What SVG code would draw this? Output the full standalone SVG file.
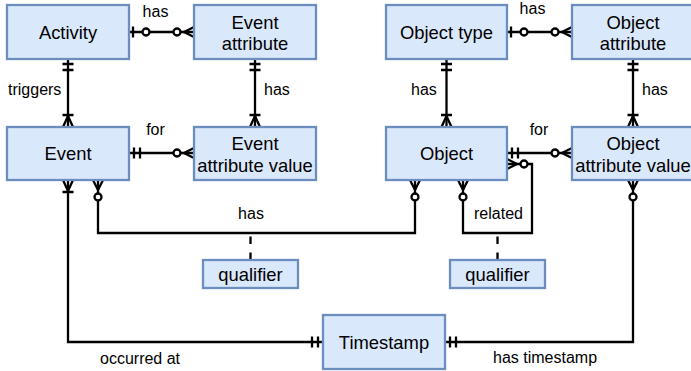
<svg xmlns="http://www.w3.org/2000/svg" width="691" height="371" viewBox="0 0 691 371">
  <style>
    .box { fill: #dae8fc; stroke: #6c8ebf; stroke-width: 2.3; }
    .nt { font-family: "Liberation Sans", Arial, sans-serif; font-size: 18.4px; fill: #000; text-anchor: middle; }
    .lb { font-family: "Liberation Sans", Arial, sans-serif; font-size: 16px; fill: #000; }
    .edge { fill: none; stroke: #000; stroke-width: 2.3; }
    .dash { fill: none; stroke: #000; stroke-width: 2.3; stroke-dasharray: 7.5 8.5; }
    .mk { fill: none; stroke: #000; stroke-width: 2.3; }
    .mc { fill: #fff; stroke: #000; stroke-width: 2.3; }
  </style>
  <defs>
    <!-- crow's foot with circle: zero or many -->
    <marker id="zeroMany" markerUnits="userSpaceOnUse" orient="auto-start-reverse" viewBox="-25 -10 30 20" markerWidth="30" markerHeight="20" refX="0" refY="0">
      <path class="mk" d="M0,-5 L-10,0 L0,5"/>
      <circle class="mc" cx="-17" cy="0" r="3.5"/>
    </marker>
    <!-- crow's foot with bar: one or many -->
    <marker id="oneMany" markerUnits="userSpaceOnUse" orient="auto-start-reverse" viewBox="-25 -10 30 20" markerWidth="30" markerHeight="20" refX="0" refY="0">
      <path class="mk" d="M0,-5 L-11,0 L0,5 M-12,-5.5 V5.5"/>
    </marker>
    <!-- double bar: exactly one -->
    <marker id="mandOne" markerUnits="userSpaceOnUse" orient="auto-start-reverse" viewBox="-25 -10 30 20" markerWidth="30" markerHeight="20" refX="0" refY="0">
      <path class="mk" d="M-5,-5.5 V5.5 M-11,-5.5 V5.5"/>
    </marker>
    <!-- bar with circle: zero or one -->
    <marker id="zeroOne" markerUnits="userSpaceOnUse" orient="auto-start-reverse" viewBox="-25 -10 30 20" markerWidth="30" markerHeight="20" refX="0" refY="0">
      <path class="mk" d="M-4,-5.5 V5.5"/>
      <circle class="mc" cx="-17" cy="0" r="3.5"/>
    </marker>
  </defs>

  <g id="connectors">
    <path class="edge" d="M129,32 H194" marker-start="url(#zeroOne)" marker-end="url(#zeroMany)"/>
    <path class="edge" d="M68,59 V127" marker-start="url(#mandOne)" marker-end="url(#oneMany)"/>
    <path class="edge" d="M255,59 V127" marker-start="url(#mandOne)" marker-end="url(#oneMany)"/>
    <path class="edge" d="M129,153 H194" marker-start="url(#mandOne)" marker-end="url(#zeroMany)"/>
    <path class="edge" d="M507,32 H572" marker-start="url(#zeroOne)" marker-end="url(#zeroMany)"/>
    <path class="edge" d="M446.5,59 V127" marker-start="url(#mandOne)" marker-end="url(#oneMany)"/>
    <path class="edge" d="M633,59 V127" marker-start="url(#mandOne)" marker-end="url(#oneMany)"/>
    <path class="edge" d="M507,153 H572" marker-start="url(#mandOne)" marker-end="url(#zeroMany)"/>
    <path class="edge" d="M507,164 H532 V233 H463 V180" marker-start="url(#zeroMany)" marker-end="url(#zeroMany)"/>
    <path class="edge" d="M98,180 V233 H415 V180" marker-start="url(#zeroMany)" marker-end="url(#zeroMany)"/>
    <path class="edge" d="M68,180 V342 H323" marker-start="url(#oneMany)" marker-end="url(#mandOne)"/>
    <path class="edge" d="M633,180 V342 H445" marker-start="url(#zeroMany)" marker-end="url(#mandOne)"/>
    <path class="dash" d="M250.5,236.5 V260"/>
    <path class="dash" d="M497.5,236.5 V260"/>

    <text class="lb" x="155.5" y="17" text-anchor="middle">has</text>
    <text class="lb" x="8" y="94.5">triggers</text>
    <text class="lb" x="264" y="94.5">has</text>
    <text class="lb" x="155.5" y="135" text-anchor="middle">for</text>
    <text class="lb" x="532.5" y="14" text-anchor="middle">has</text>
    <text class="lb" x="411" y="94.5">has</text>
    <text class="lb" x="642" y="94.5">has</text>
    <text class="lb" x="539" y="135" text-anchor="middle">for</text>
    <text class="lb" x="251" y="219" text-anchor="middle">has</text>
    <text class="lb" x="498.5" y="219" text-anchor="middle">related</text>
    <text class="lb" x="100" y="364">occurred at</text>
    <text class="lb" x="493" y="363">has timestamp</text>
  </g>

  <g id="activity">
    <rect class="box" x="7" y="5" width="122" height="54"/>
    <text class="nt" x="68" y="38.5">Activity</text>
  </g>
  <g id="event-attribute">
    <rect class="box" x="194" y="5" width="122" height="54"/>
    <text class="nt" x="255" y="28.5">Event</text>
    <text class="nt" x="255" y="50">attribute</text>
  </g>
  <g id="event">
    <rect class="box" x="7" y="127" width="122" height="53"/>
    <text class="nt" x="68" y="160">Event</text>
  </g>
  <g id="event-attribute-value">
    <rect class="box" x="194" y="127" width="122" height="53"/>
    <text class="nt" x="255" y="149.5">Event</text>
    <text class="nt" x="255" y="171.5">attribute value</text>
  </g>
  <g id="object-type">
    <rect class="box" x="386" y="5" width="121" height="54"/>
    <text class="nt" x="446.5" y="38.5">Object type</text>
  </g>
  <g id="object-attribute">
    <rect class="box" x="572" y="5" width="122" height="54"/>
    <text class="nt" x="633" y="28.5">Object</text>
    <text class="nt" x="633" y="50">attribute</text>
  </g>
  <g id="object">
    <rect class="box" x="386" y="127" width="121" height="53"/>
    <text class="nt" x="446.5" y="160">Object</text>
  </g>
  <g id="object-attribute-value">
    <rect class="box" x="572" y="127" width="122" height="53"/>
    <text class="nt" x="633" y="149.5">Object</text>
    <text class="nt" x="633" y="171.5">attribute value</text>
  </g>
  <g id="qualifier-event-object">
    <rect class="box" x="203" y="260" width="95" height="28"/>
    <text class="nt" x="250.5" y="280.5">qualifier</text>
  </g>
  <g id="qualifier-object-object">
    <rect class="box" x="450" y="260" width="95" height="28"/>
    <text class="nt" x="497.5" y="280.5">qualifier</text>
  </g>
  <g id="timestamp">
    <rect class="box" x="323" y="315" width="122" height="54"/>
    <text class="nt" x="384" y="348.5">Timestamp</text>
  </g>
</svg>
